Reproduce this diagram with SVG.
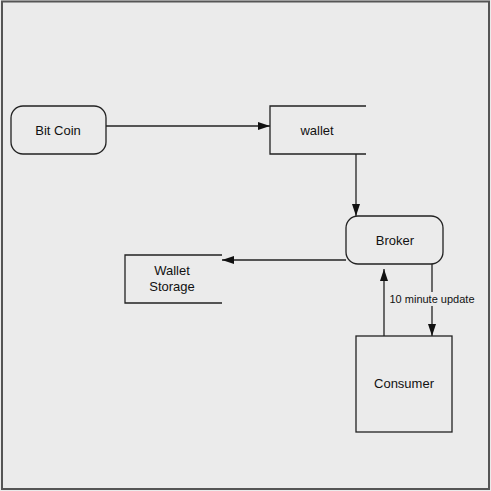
<svg xmlns="http://www.w3.org/2000/svg" width="491" height="491" viewBox="0 0 491 491">
<defs>
<style>
.box{fill:none;stroke:#222;stroke-width:1.3}
.ln{fill:none;stroke:#222;stroke-width:1.3}
.t{font-family:"Liberation Sans",Arial,sans-serif;font-size:13px;fill:#111;text-anchor:middle}
.s{font-family:"Liberation Sans",Arial,sans-serif;font-size:11px;fill:#111;text-anchor:middle}
</style>
<marker id="ah" markerWidth="12" markerHeight="8" refX="12" refY="4" orient="auto" markerUnits="userSpaceOnUse">
<path d="M0,0 L12,4 L0,8 Z" fill="#111"/>
</marker>
</defs>
<rect x="0" y="0" width="491" height="491" fill="#ebebeb"/>
<rect x="2" y="1.5" width="487" height="487.5" fill="none" stroke="#555" stroke-width="2"/>
<g id="connectors">
<line class="ln" x1="106" y1="126" x2="270" y2="126" marker-end="url(#ah)"/>
<line class="ln" x1="356" y1="154" x2="356" y2="216" marker-end="url(#ah)"/>
<line class="ln" x1="346" y1="260" x2="222" y2="260" marker-end="url(#ah)"/>
<line class="ln" x1="384" y1="336" x2="384" y2="269" marker-end="url(#ah)"/>
<line class="ln" x1="432" y1="264" x2="432" y2="336" marker-end="url(#ah)"/>
<rect x="391" y="292" width="83" height="14" fill="#ebebeb"/>
<text class="s" x="432" y="303">10 minute update</text>
</g>
<g id="bitcoin">
<rect class="box" x="11" y="106" width="95" height="48" rx="12"/>
<text class="t" x="58" y="135">Bit Coin</text>
</g>
<g id="wallet">
<path class="box" d="M366,106 H270 V154 H366"/>
<text class="t" x="317" y="135">wallet</text>
</g>
<g id="broker">
<rect class="box" x="346" y="216" width="97" height="48" rx="12"/>
<text class="t" x="395" y="245">Broker</text>
</g>
<g id="walletstorage">
<path class="box" d="M222,255 H125 V303 H222"/>
<text class="t" x="172" y="275">Wallet</text>
<text class="t" x="172" y="291">Storage</text>
</g>
<g id="consumer">
<rect class="box" x="356" y="336" width="96" height="96"/>
<text class="t" x="404" y="388">Consumer</text>
</g>
</svg>
